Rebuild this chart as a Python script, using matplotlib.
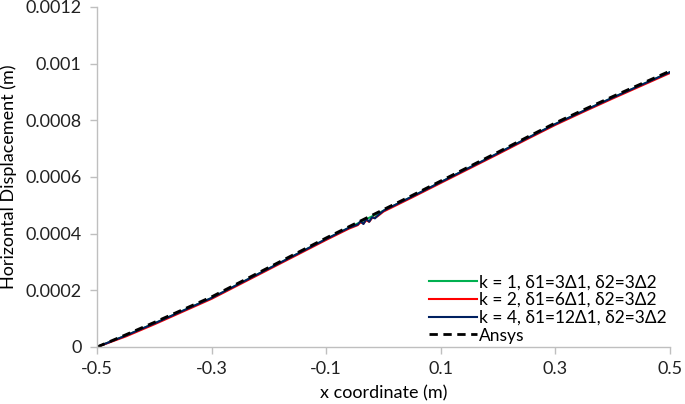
import matplotlib
matplotlib.use("Agg")
from matplotlib import pyplot as plt

plt.rcParams['font.family'] = ['Lato', 'DejaVu Sans']

# data (displacement in 1e-4 m)
x_base = [-0.5, -0.45, -0.4, -0.35, -0.3, -0.25, -0.2, -0.15, -0.1, -0.05,
          0.0, 0.05, 0.1, 0.15, 0.2, 0.25, 0.3, 0.35, 0.4, 0.45, 0.5]
k1_y = [0, 0.40, 0.83, 1.28, 1.73, 2.25, 2.77, 3.29, 3.81, 4.31,
        4.81, 5.31, 5.82, 6.33, 6.84, 7.36, 7.87, 8.34, 8.80, 9.25, 9.70]

x_wig = [-0.5, -0.45, -0.4, -0.35, -0.3, -0.25, -0.2, -0.15, -0.1, -0.06,
         -0.045, -0.04, -0.035, -0.03, -0.025, -0.02, -0.015, -0.01, 0.0,
         0.05, 0.1, 0.15, 0.2, 0.25, 0.3, 0.35, 0.4, 0.45, 0.5]
k2_y = [0, 0.37, 0.80, 1.25, 1.70, 2.22, 2.74, 3.26, 3.78, 4.18,
        4.30, 4.40, 4.36, 4.47, 4.42, 4.55, 4.56, 4.62, 4.78,
        5.28, 5.79, 6.30, 6.81, 7.33, 7.84, 8.31, 8.77, 9.22, 9.67]
k4_y = [0, 0.40, 0.83, 1.28, 1.73, 2.25, 2.77, 3.29, 3.81, 4.21,
        4.32, 4.44, 4.34, 4.52, 4.42, 4.58, 4.54, 4.64, 4.81,
        5.31, 5.82, 6.33, 6.84, 7.36, 7.87, 8.34, 8.80, 9.25, 9.70]
ansys_y = [0, 0.43, 0.87, 1.32, 1.77, 2.29, 2.81, 3.33, 3.85, 4.35,
           4.85, 5.35, 5.86, 6.37, 6.88, 7.40, 7.91, 8.38, 8.84, 9.29, 9.74]

labels = ['k = 1, δ1=3Δ1, δ2=3Δ2', 'k = 2, δ1=6Δ1, δ2=3Δ2',
          'k = 4, δ1=12Δ1, δ2=3Δ2', 'Ansys']
yticks = [0, 0.0002, 0.0004, 0.0006, 0.0008, 0.001, 0.0012]
ytick_labels = ['0', '0.0002', '0.0004', '0.0006', '0.0008', '0.001', '0.0012']
xticks = [-0.5, -0.3, -0.1, 0.1, 0.3, 0.5]
xtick_labels = ['-0.5', '-0.3', '-0.1', '0.1', '0.3', '0.5']

fig = plt.figure(figsize=(6.85, 4.04), dpi=100)
ax = fig.add_axes([0.1416, 0.1411, 0.8365, 0.8416])

s = 1e-4
ax.plot(x_base, [v * s for v in k1_y], color='#00b050', lw=1.5, label=labels[0])
ax.plot(x_wig, [v * s for v in k2_y], color='#ff0000', lw=1.5, label=labels[1])
ax.plot(x_wig, [v * s for v in k4_y], color='#002060', lw=1.5, label=labels[2])
ax.plot(x_base, [v * s for v in ansys_y], color='black', lw=2, ls=(0, (3, 2)),
        label=labels[3])

ax.set_xlim(-0.5, 0.5)
ax.set_ylim(0, 0.0012)
ax.set_xticks(xticks)
ax.set_xticklabels(xtick_labels)
ax.set_yticks(yticks)
ax.set_yticklabels(ytick_labels)

for sp in ['top', 'right']:
    ax.spines[sp].set_visible(False)
for sp in ['left', 'bottom']:
    ax.spines[sp].set_color('#bfbfbf')
    ax.spines[sp].set_linewidth(1)
ax.tick_params(axis='both', colors='#bfbfbf', labelcolor='#222222',
               labelsize=13, length=5, width=1, direction='out')
ax.tick_params(axis='x', pad=5)
ax.tick_params(axis='y', pad=6)

ax.set_xlabel('x coordinate (m)', fontsize=13, labelpad=6)
ax.set_ylabel('Horizontal Displacement (m)', fontsize=13, labelpad=6)

ax.legend(loc='lower right', bbox_to_anchor=(1.0, 0.0), frameon=False,
          fontsize=12.5, handlelength=2.8, handletextpad=0.1, labelspacing=0.1,
          borderaxespad=0.1, borderpad=0.1)

fig.savefig('out.png', dpi=100)
